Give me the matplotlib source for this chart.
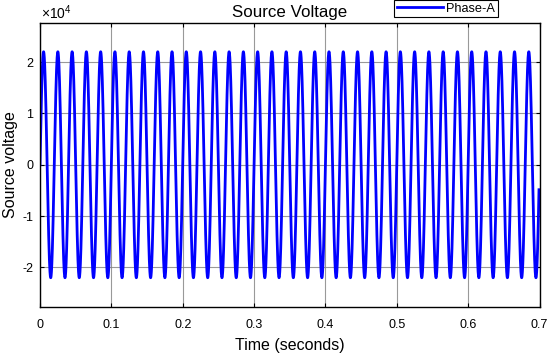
import numpy as np
import matplotlib
matplotlib.use("Agg")
import matplotlib.pyplot as plt
from matplotlib.ticker import FuncFormatter

# Signal parameters
amplitude = 22000.0      # volts (peak ~2.2 x 10^4)
frequency = 50.0         # Hz (5 cycles per 0.1 s)
t_start = 0.0
t_end = 0.6993
dt = 1e-5

x_ticks = [0, 0.1, 0.2, 0.3, 0.4, 0.5, 0.6, 0.7]
y_ticks = [-20000, -10000, 0, 10000, 20000]
x_limits = [0, 0.7]
y_limits = [-27700, 27700]
series_name = "Phase-A"

t = np.arange(t_start, t_end, dt)
v = amplitude * np.sin(2 * np.pi * frequency * t)

plt.rcParams['font.family'] = ['Liberation Sans', 'DejaVu Sans']
plt.rcParams['mathtext.fontset'] = 'custom'
plt.rcParams['mathtext.rm'] = 'Liberation Sans'

fig = plt.figure(figsize=(5.56, 3.59), dpi=100)
W, H = 556, 359
left, right, top, bottom = 40, 539.5, 22.5, 307
ax = fig.add_axes([left / W, 1 - bottom / H, (right - left) / W, (bottom - top) / H])

line, = ax.plot(t, v, color=(0, 0, 1), lw=2.0, label=series_name)
ax.set_xlim(*x_limits)
ax.set_ylim(*y_limits)
ax.set_xticks(x_ticks)
ax.set_yticks(y_ticks)
ax.xaxis.set_major_formatter(FuncFormatter(lambda x, p: ('%g' % round(x, 2))))
ax.yaxis.set_major_formatter(FuncFormatter(lambda y, p: '%g' % (y / 1e4)))
ax.grid(True, color='#808080', lw=0.8, alpha=0.8)
ax.tick_params(direction='in', length=3, labelsize=9, top=True, right=True, colors='black')
ax.tick_params(axis='x', pad=9)
ax.tick_params(axis='y', pad=5)
for s in ax.spines.values():
    s.set_linewidth(1.0)
    s.set_color('black')

ax.set_xlabel('Time (seconds)', fontsize=11.5, labelpad=5)
ax.set_ylabel('Source voltage', fontsize=11.5, labelpad=3)
ax.set_title('Source Voltage', fontsize=12.2, pad=4)

fig.text(41 / W, 1 - 18.5 / H, r'$\mathregular{\times10^{4}}$', fontsize=10, ha='left', va='baseline')

leg = fig.legend(handles=[line], loc='upper left', bbox_to_anchor=(394 / W, 1 - 0 / H),
                 fontsize=9.2, frameon=True, fancybox=False, framealpha=1,
                 edgecolor='black', handlelength=3.6, handletextpad=0.3,
                 borderpad=0.2, borderaxespad=0)
leg.get_frame().set_linewidth(0.8)

fig.savefig('out.png', dpi=100)
